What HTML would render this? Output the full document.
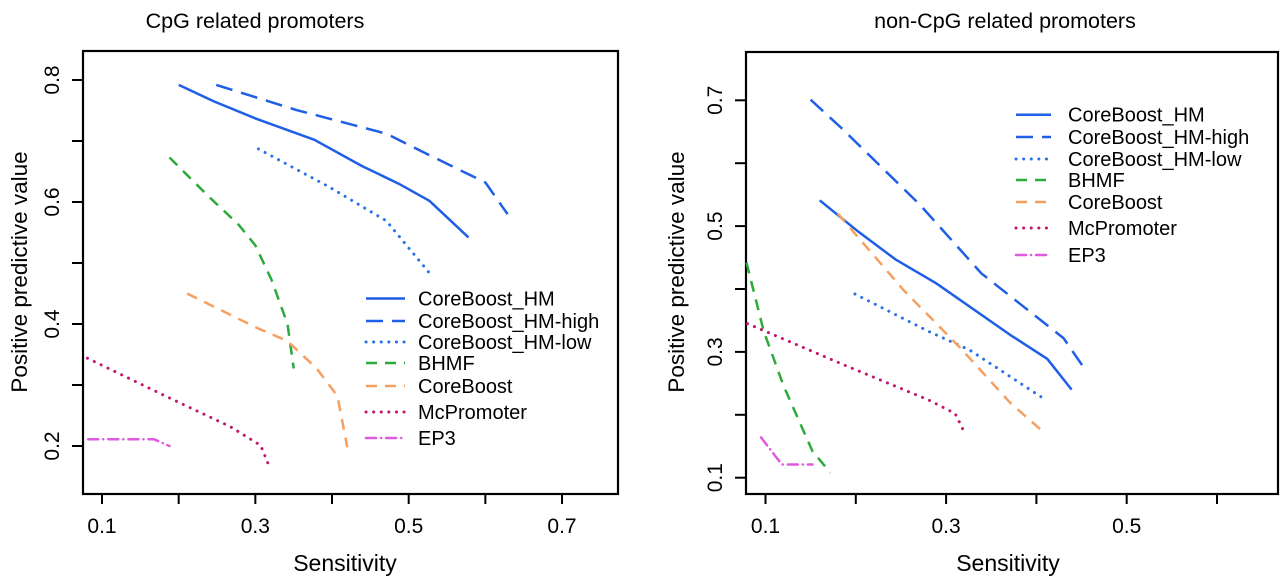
<!DOCTYPE html>
<html><head><meta charset="utf-8"><style>
html,body{margin:0;padding:0;background:#fff;}
svg{display:block;font-family:"Liberation Sans",Arial,sans-serif;}
</style></head><body>
<svg id="chart" width="1280" height="577" viewBox="0 0 1280 577" xmlns="http://www.w3.org/2000/svg"></svg>
<script>
const seriesNames = ["CoreBoost_HM","CoreBoost_HM-high","CoreBoost_HM-low","BHMF","CoreBoost","McPromoter","EP3"];
const leftXTicks = [0.1,0.2,0.3,0.4,0.5,0.6,0.7];
const leftXLabels = ["0.1","","0.3","","0.5","","0.7"];
const leftYTicks = [0.2,0.3,0.4,0.5,0.6,0.7,0.8];
const leftYLabels = ["0.2","","0.4","","0.6","","0.8"];
const rightXTicks = [0.1,0.2,0.3,0.4,0.5,0.6];
const rightXLabels = ["0.1","","0.3","","0.5",""];
const rightYTicks = [0.1,0.2,0.3,0.4,0.5,0.6,0.7];
const rightYLabels = ["0.1","","0.3","","0.5","","0.7"];
const leftHM_x = [0.2,0.246,0.3,0.377,0.439,0.487,0.527,0.578];
const leftHM_y = [0.792,0.765,0.737,0.702,0.659,0.63,0.602,0.542];
const leftHigh_x = [0.249,0.353,0.471,0.53,0.6,0.629];
const leftHigh_y = [0.792,0.751,0.712,0.675,0.632,0.58];
const leftLow_x = [0.304,0.396,0.471,0.53];
const leftLow_y = [0.687,0.625,0.569,0.479];
const leftBHMF_x = [0.188,0.24,0.278,0.3,0.321,0.342,0.35];
const leftBHMF_y = [0.673,0.608,0.563,0.529,0.473,0.4,0.327];
const leftCB_x = [0.211,0.3,0.342,0.38,0.407,0.42];
const leftCB_y = [0.45,0.395,0.372,0.327,0.282,0.198];
const leftMc_x = [0.081,0.181,0.267,0.307,0.318];
const leftMc_y = [0.344,0.283,0.232,0.201,0.167];
const leftEP3_x = [0.082,0.168,0.188];
const leftEP3_y = [0.211,0.211,0.2];
const rightHM_x = [0.16,0.203,0.244,0.289,0.371,0.412,0.439];
const rightHM_y = [0.541,0.491,0.447,0.409,0.327,0.289,0.24];
const rightHigh_x = [0.15,0.184,0.271,0.339,0.43,0.451];
const rightHigh_y = [0.701,0.656,0.534,0.425,0.322,0.278];
const rightLow_x = [0.199,0.28,0.326,0.41];
const rightLow_y = [0.392,0.333,0.303,0.224];
const rightBHMF_x = [0.079,0.098,0.12,0.152,0.172];
const rightBHMF_y = [0.442,0.333,0.246,0.142,0.108];
const rightCB_x = [0.18,0.253,0.316,0.371,0.41];
const rightCB_y = [0.52,0.398,0.306,0.219,0.17];
const rightMc_x = [0.08,0.189,0.28,0.31,0.321];
const rightMc_y = [0.345,0.278,0.224,0.202,0.17];
const rightEP3_x = [0.095,0.118,0.152];
const rightEP3_y = [0.164,0.121,0.121];

const styles = [
 {c:"#1f5ee6",d:""},
 {c:"#1f5ee6",d:"17,9"},
 {c:"#2a72e8",d:"0.1,7.5",cap:"round",w:3},
 {c:"#2eaa3a",d:"11,8"},
 {c:"#f5a060",d:"11,8"},
 {c:"#c2166e",d:"0.1,7.5",cap:"round",w:3},
 {c:"#e05ae0",d:"10,5,0.1,5",cap:"round"}
];
const NS="http://www.w3.org/2000/svg";
const svg=document.getElementById('chart');
function mk(tag,attrs,parent){const e=document.createElementNS(NS,tag);for(const k in attrs)e.setAttribute(k,attrs[k]);(parent||svg).appendChild(e);return e;}

function panel(cfg){
  const g=mk('g',{});
  
  
  const sx=v=>cfg.x0px+(v-cfg.x0v)*cfg.xs;
  const sy=v=>cfg.y0px-(v-cfg.y0v)*cfg.ys;
  const t=mk('text',{x:cfg.titleX,y:28,'text-anchor':'middle','font-size':21.5},g);
  t.textContent=cfg.title;
  
  
  const box=mk('rect',{x:cfg.bx0,y:cfg.by0,width:cfg.bx1-cfg.bx0,height:cfg.by1-cfg.by0,fill:'none',stroke:'#000','stroke-width':2.2},g);
  
  
  const xa=mk('g',{},g);
  
  
  cfg.xt.forEach((v,i)=>{const x=sx(v);
    mk('line',{x1:x,x2:x,y1:cfg.by1,y2:cfg.by1+10,stroke:'#000','stroke-width':2},xa);
    if(cfg.xl[i]){const tt=mk('text',{x:x,y:cfg.by1+39,'text-anchor':'middle','font-size':21},xa);tt.textContent=cfg.xl[i];
      
      }
  });
  const xt=mk('text',{x:cfg.xTitleX,y:571,'text-anchor':'middle','font-size':23},g);
  xt.textContent='Sensitivity';
  
  
  const ya=mk('g',{},g);
  
  
  cfg.yt.forEach((v,i)=>{const y=sy(v);
    mk('line',{x1:cfg.bx0,x2:cfg.bx0-11,y1:y,y2:y,stroke:'#000','stroke-width':2},ya);
    if(cfg.yl[i]){const tt=mk('text',{x:0,y:0,'text-anchor':'middle','font-size':21,transform:`translate(${cfg.bx0-24},${y}) rotate(-90)`},ya);tt.textContent=cfg.yl[i];
      
      }
  });
  const yt=mk('text',{x:0,y:0,'text-anchor':'middle','font-size':22.5,transform:`translate(${cfg.yTitleX},${cfg.yTitleY}) rotate(-90)`},g);
  yt.textContent='Positive predictive value';
  
  
  cfg.series.forEach((s,i)=>{
    const st=styles[i];
    const pts=s[0].map((xv,j)=>sx(xv).toFixed(1)+','+sy(s[1][j]).toFixed(1)).join(' ');
    const p=mk('polyline',{points:pts,fill:'none',stroke:st.c,'stroke-width':st.w||2.5,'stroke-dasharray':st.d,'stroke-linecap':st.cap||'butt','stroke-linejoin':'round'},g);
    
    
  });
  const lg=mk('g',{},g);
  
  
  seriesNames.forEach((n,i)=>{const st=styles[i];const y=cfg.legY[i];
    const e=mk('g',{},lg);
    
    
    mk('line',{x1:cfg.legX0,x2:cfg.legX1,y1:y,y2:y,stroke:st.c,'stroke-width':st.w||2.5,'stroke-dasharray':st.d,'stroke-linecap':st.cap||'butt'},e);
    const tt=mk('text',{x:cfg.legTX,y:y+7,'font-size':20},e);tt.textContent=n;
  });
}
panel({name:'cpg-panel',title:'CpG related promoters',titleX:255,
  bx0:83,bx1:618,by0:51,by1:494,x0px:102,x0v:0.1,xs:766.7,y0px:446,y0v:0.2,ys:610,
  xt:leftXTicks,xl:leftXLabels,yt:leftYTicks,yl:leftYLabels,xTitleX:345,yTitleX:27,yTitleY:272,
  series:[[leftHM_x,leftHM_y],[leftHigh_x,leftHigh_y],[leftLow_x,leftLow_y],[leftBHMF_x,leftBHMF_y],[leftCB_x,leftCB_y],[leftMc_x,leftMc_y],[leftEP3_x,leftEP3_y]],
  legX0:366,legX1:405,legTX:418,legY:[298.5,321,342,363,386,412,438]});
panel({name:'non-cpg-panel',title:'non-CpG related promoters',titleX:1005,
  bx0:746,bx1:1278,by0:52,by1:494,x0px:765.5,x0v:0.1,xs:903,y0px:477.7,y0v:0.1,ys:629,
  xt:rightXTicks,xl:rightXLabels,yt:rightYTicks,yl:rightYLabels,xTitleX:1008,yTitleX:684,yTitleY:272,
  series:[[rightHM_x,rightHM_y],[rightHigh_x,rightHigh_y],[rightLow_x,rightLow_y],[rightBHMF_x,rightBHMF_y],[rightCB_x,rightCB_y],[rightMc_x,rightMc_y],[rightEP3_x,rightEP3_y]],
  legX0:1016,legX1:1051,legTX:1068,legY:[114.7,137,159,180,202,228,255]});
</script>
</body></html>
